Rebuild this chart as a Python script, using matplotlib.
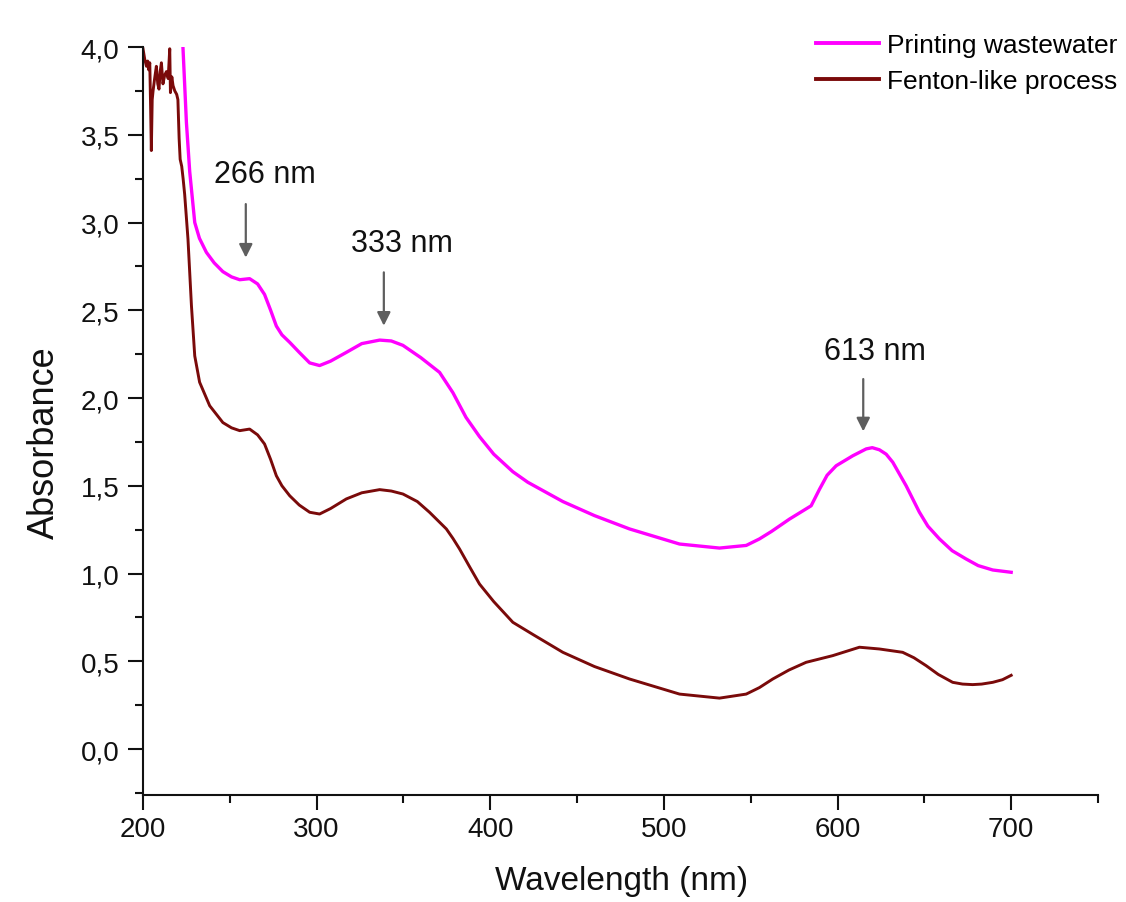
import matplotlib
matplotlib.use("Agg")
import matplotlib.pyplot as plt
from matplotlib.ticker import MultipleLocator, FuncFormatter

plt.rcParams['font.family'] = ['Liberation Sans', 'DejaVu Sans']

# printing wastewater (raw)
pw_wl = [223, 225, 226.9, 229.8, 232.5, 236.5, 241, 246, 251, 255.7, 261.4, 266, 270,
         273.5, 276.8, 280, 284.5, 290, 296, 301.7, 308, 317.1, 326, 336.3, 343, 349.7,
         360, 370.8, 378.5, 386, 393.8, 402, 413, 421.6, 441.8, 460, 480.2, 509, 532,
         547.4, 555, 562, 572.3, 584.8, 589.6, 594, 599.2, 608.8, 616.5, 620, 624.1, 628,
         631.8, 639.5, 647.1, 652, 658.7, 666, 674, 681, 689.4, 700]
pw_abs = [4.0, 3.57, 3.29, 3.00, 2.91, 2.83, 2.77, 2.72, 2.69, 2.674, 2.68, 2.65, 2.59,
          2.50, 2.41, 2.36, 2.317, 2.26, 2.20, 2.185, 2.21, 2.26, 2.31, 2.33, 2.325, 2.30,
          2.23, 2.146, 2.03, 1.89, 1.78, 1.68, 1.58, 1.52, 1.41, 1.33, 1.254, 1.168, 1.145,
          1.16, 1.197, 1.24, 1.31, 1.386, 1.48, 1.56, 1.614, 1.671, 1.71, 1.717, 1.705, 1.68,
          1.634, 1.50, 1.35, 1.27, 1.197, 1.13, 1.083, 1.045, 1.02, 1.007]

# after Fenton-like treatment
fl_wl = [200, 201, 202, 202.7, 203.3, 203.9, 204.4, 204.8, 205.3, 205.8, 206.7, 207.7,
         208.5, 209.2, 209.9, 210.6, 211.5, 212.5, 213.5, 214.5, 215.4, 215.8, 216.6,
         217.3, 218.3, 219.4, 220.1, 220.8, 221.4, 222.3, 223.1, 224, 225.9, 227.9, 229.8,
         232.6, 238.4, 246, 251, 255.7, 261.4, 266, 270, 273.5, 276.8, 280, 284.5, 290,
         296, 301.7, 308, 317.1, 326, 336.3, 343, 349.7, 358, 365, 370, 374.7, 378.5, 382.3,
         388, 393.8, 402, 413, 425, 441.8, 460, 480.2, 509, 532, 547.4, 555, 562.7, 572,
         581.9, 597.2, 612.6, 624.1, 637.5, 644, 651, 658, 666.3, 672, 677.8, 683, 689.4,
         695, 700]
fl_abs = [3.99, 3.93, 3.89, 3.92, 3.87, 3.91, 3.65, 3.41, 3.70, 3.75, 3.82, 3.89,
          3.79, 3.76, 3.86, 3.91, 3.79, 3.84, 3.86, 3.82, 3.99, 3.74, 3.83,
          3.78, 3.75, 3.73, 3.70, 3.48, 3.36, 3.32, 3.25, 3.16, 2.906, 2.526, 2.24,
          2.09, 1.956, 1.86, 1.83, 1.814, 1.823, 1.79, 1.738, 1.65, 1.557, 1.50, 1.443, 1.39,
          1.349, 1.339, 1.37, 1.425, 1.46, 1.478, 1.47, 1.453, 1.41, 1.349, 1.30, 1.254, 1.20,
          1.14, 1.04, 0.94, 0.84, 0.722, 0.65, 0.551, 0.47, 0.399, 0.313, 0.29, 0.313, 0.35,
          0.399, 0.45, 0.494, 0.532, 0.58, 0.57, 0.551, 0.52, 0.475, 0.425, 0.38, 0.37, 0.367,
          0.37, 0.38, 0.395, 0.42]

# peak labels: text, text position, arrow x, arrow start/end y
peak_text = ["266 nm", "333 nm", "613 nm"]
text_xy = [(270.1, 3.231), (349.2, 2.839), (621.7, 2.222)]
arrow_x = [259.2, 338.7, 614.8]
arrow_y = [(3.105, 2.80), (2.716, 2.412), (2.108, 1.81)]

fig = plt.figure(figsize=(11.26, 9.03), dpi=100, facecolor="white")
ax = fig.add_axes([143 / 1126, 1 - 796 / 903, 955 / 1126, 748 / 903])

ax.plot(pw_wl, pw_abs, color="#ff00ff", lw=2.4, label="Printing wastewater",
        solid_joinstyle="round")
ax.plot(fl_wl, fl_abs, color="#7a0a0a", lw=2.1, label="Fenton-like process",
        solid_joinstyle="round")

for t, (tx, ty), ax_x, (y0, y1) in zip(peak_text, text_xy, arrow_x, arrow_y):
    ax.text(tx, ty, t, fontsize=22, ha="center", va="baseline", color="#111111")
    ax.annotate("", xy=(ax_x, y1), xytext=(ax_x, y0),
                arrowprops=dict(arrowstyle="-|>", color="#5e5e5e", lw=1.6,
                                mutation_scale=20, shrinkA=0, shrinkB=0))

ax.set_xlim(200, 750)
ax.set_ylim(-0.262, 4.0)
ax.xaxis.set_major_locator(MultipleLocator(100))
ax.xaxis.set_minor_locator(MultipleLocator(50))
ax.yaxis.set_major_locator(MultipleLocator(0.5))
ax.yaxis.set_minor_locator(MultipleLocator(0.25))
ax.yaxis.set_major_formatter(FuncFormatter(lambda v, p: f"{v:.1f}".replace(".", ",")))

for s in ["top", "right"]:
    ax.spines[s].set_visible(False)
for s in ["left", "bottom"]:
    ax.spines[s].set_linewidth(1.5)
    ax.spines[s].set_color("#111111")

ax.tick_params(which="major", direction="out", length=11, width=1.5, labelsize=20,
               colors="#111111")
ax.tick_params(which="minor", direction="out", length=6, width=1.5, colors="#111111")
ax.tick_params(axis="y", which="major", pad=6)
ax.tick_params(axis="x", which="major", pad=4)

ax.set_xlabel("Wavelength (nm)", fontsize=24, color="#111111")
ax.set_ylabel("Absorbance", fontsize=26, color="#111111")
ax.xaxis.set_label_coords(0.5016, -0.093)
ax.xaxis.label.set_va("top")
ax.yaxis.set_label_coords(-0.0848, 0.473)

# legend kept just inside the right edge so both labels stay whole
leg = ax.legend(loc="upper left", bbox_to_anchor=(816 / 1126, 1 - 34 / 903),
                bbox_transform=fig.transFigure, frameon=False, fontsize=19,
                borderpad=0, borderaxespad=0, handlelength=2.4, handletextpad=0.3,
                labelspacing=0.45)
for line in leg.get_lines():
    line.set_linewidth(2.8)

fig.savefig("out.png", dpi=100)
